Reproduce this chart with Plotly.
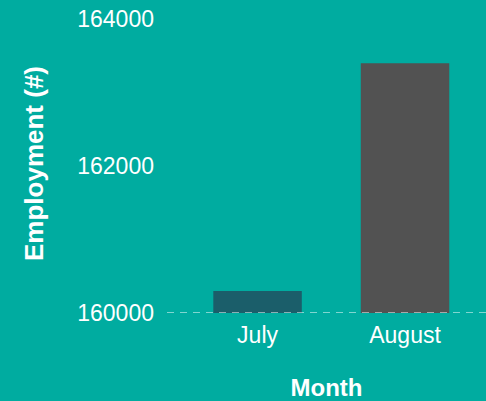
import plotly.graph_objects as go

months = ["July", "August"]
employment = [160300, 163400]
bar_colors = ["#1B5E6A", "#525252"]
y_ticks = [160000, 162000, 164000]
baseline = 160000

BG = "#00ACA0"
FONT = "Liberation Sans, Arial, sans-serif"

fig = go.Figure()
fig.add_trace(go.Bar(
    x=months, y=employment,
    marker=dict(color=bar_colors, line=dict(width=0)),
    width=0.6,
))

fig.add_shape(type="line", xref="paper", x0=0, x1=1, yref="y", y0=baseline, y1=baseline,
              line=dict(color="rgba(255,255,255,0.5)", width=2, dash="7px,6px"), layer="above")

fig.update_layout(
    width=486, height=401,
    paper_bgcolor=BG, plot_bgcolor=BG,
    margin=dict(l=167, r=0, t=14, b=88),
    showlegend=False,
    font=dict(family=FONT, color="white", size=23),
    xaxis=dict(
        range=[-0.614, 1.549],
        showgrid=False, zeroline=False, showline=False,
        ticks="", tickfont=dict(size=23, color="white"),
        ticklabelstandoff=6,
        title=dict(text="<b>Month</b>", font=dict(size=24, color="white"), standoff=32),
    ),
    yaxis=dict(
        range=[160000, 164071],
        tickvals=y_ticks, ticktext=[str(v) for v in y_ticks],
        showgrid=False, zeroline=False, showline=False,
        ticks="", tickfont=dict(size=23, color="white"),
        ticklabelstandoff=12,
        title=dict(text="<b>Employment (#)</b>", font=dict(size=26, color="white"), standoff=26),
    ),
)

fig.write_html(
    "out.html",
    config={"displayModeBar": False},
    post_script="document.body.style.margin='0';document.body.style.overflow='hidden';",
)
